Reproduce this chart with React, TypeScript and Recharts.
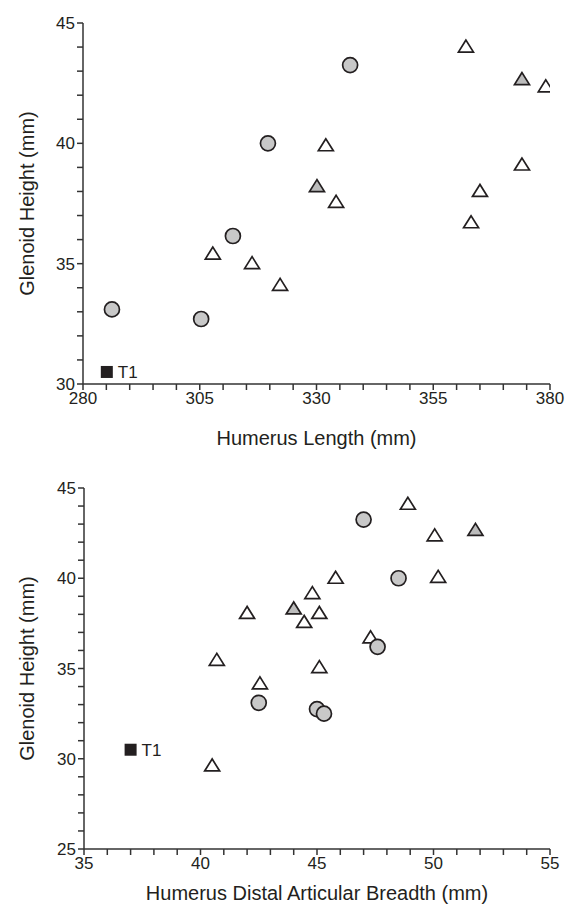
import { ScatterChart, Scatter, XAxis, YAxis } from "recharts"

// top panel: glenoid height vs humerus length
const topCircles = [
  { x: 286.2, y: 33.1 },
  { x: 305.3, y: 32.7 },
  { x: 312.1, y: 36.15 },
  { x: 319.6, y: 40.0 },
  { x: 337.2, y: 43.25 },
]
const topOpenTriangles = [
  { x: 307.8, y: 35.4 },
  { x: 316.2, y: 35.0 },
  { x: 322.2, y: 34.1 },
  { x: 332.0, y: 39.9 },
  { x: 334.2, y: 37.55 },
  { x: 362.0, y: 44.0 },
  { x: 363.1, y: 36.7 },
  { x: 365.0, y: 38.0 },
  { x: 374.0, y: 39.1 },
  { x: 379.1, y: 42.35 },
]
const topGrayTriangles = [
  { x: 330.1, y: 38.2 },
  { x: 374.0, y: 42.65 },
]
const topT1 = [{ x: 285.1, y: 30.5 }]

// bottom panel: glenoid height vs distal articular breadth
const bottomCircles = [
  { x: 42.5, y: 33.1 },
  { x: 45.0, y: 32.75 },
  { x: 45.3, y: 32.5 },
  { x: 47.6, y: 36.2 },
  { x: 48.5, y: 40.0 },
  { x: 47.0, y: 43.25 },
]
const bottomOpenTriangles = [
  { x: 40.5, y: 29.6 },
  { x: 40.7, y: 35.45 },
  { x: 42.0, y: 38.05 },
  { x: 42.55, y: 34.15 },
  { x: 44.45, y: 37.55 },
  { x: 44.8, y: 39.15 },
  { x: 45.1, y: 38.05 },
  { x: 45.1, y: 35.05 },
  { x: 45.8, y: 40.0 },
  { x: 47.3, y: 36.7 },
  { x: 48.9, y: 44.1 },
  { x: 50.05, y: 42.35 },
  { x: 50.2, y: 40.05 },
]
const bottomGrayTriangles = [
  { x: 44.0, y: 38.3 },
  { x: 51.8, y: 42.65 },
]
const bottomT1 = [{ x: 37.0, y: 30.5 }]

const topXTicks = [280, 285, 290, 295, 300, 305, 310, 315, 320, 325, 330, 335, 340, 345, 350, 355, 360, 365, 370, 375, 380]
const topXLabels = [280, 305, 330, 355, 380]
const topYTicks = [30, 31, 32, 33, 34, 35, 36, 37, 38, 39, 40, 41, 42, 43, 44, 45]
const topYLabels = [30, 35, 40, 45]

const bottomXTicks = [35, 36, 37, 38, 39, 40, 41, 42, 43, 44, 45, 46, 47, 48, 49, 50, 51, 52, 53, 54, 55]
const bottomXLabels = [35, 40, 45, 50, 55]
const bottomYTicks = [25, 26, 27, 28, 29, 30, 31, 32, 33, 34, 35, 36, 37, 38, 39, 40, 41, 42, 43, 44, 45]
const bottomYLabels = [25, 30, 35, 40, 45]

const FONT = "'Liberation Sans', Arial, sans-serif"
const INK = "#231f20"
const AXIS = "#333"

function Circle(props: any) {
  const { cx, cy } = props
  return <circle cx={cx} cy={cy} r={7.5} fill="#c8c8c8" stroke={INK} strokeWidth={1.7} />
}

function Triangle(fill: string) {
  return (props: any) => {
    const { cx, cy } = props
    const pts = `${cx},${cy - 7} ${cx - 7.5},${cy + 5} ${cx + 7.5},${cy + 5}`
    return <polygon points={pts} fill={fill} stroke={INK} strokeWidth={1.7} strokeLinejoin="miter" />
  }
}

function T1Square(props: any) {
  const { cx, cy } = props
  return (
    <g>
      <rect x={cx - 6} y={cy - 6} width={12} height={12} fill={INK} />
      <text x={cx + 11} y={cy} dy="0.36em" fontSize={17} fontFamily={FONT} fill={INK}>
        T1
      </text>
    </g>
  )
}

function xTick(labels: number[]) {
  return (props: any) => {
    const { x, y, payload } = props
    if (!labels.includes(payload.value)) return <g />
    return (
      <text x={x} y={y} dy="0.72em" textAnchor="middle" fontSize={17} fontFamily={FONT} fill={INK}>
        {payload.value}
      </text>
    )
  }
}

function yTick(labels: number[]) {
  return (props: any) => {
    const { x, y, payload } = props
    if (!labels.includes(payload.value)) return <g />
    return (
      <text x={x} y={y} dy="0.36em" textAnchor="end" fontSize={17} fontFamily={FONT} fill={INK}>
        {payload.value}
      </text>
    )
  }
}

function xTitle(text: string, bottom: number) {
  return (props: any) => {
    const vb = props.viewBox
    return (
      <text x={vb.x + vb.width / 2} y={bottom} textAnchor="middle" fontSize={20} fontFamily={FONT} fill={INK}>
        {text}
      </text>
    )
  }
}

function yTitle(text: string) {
  return (props: any) => {
    const vb = props.viewBox
    const cy = vb.y + vb.height / 2
    return (
      <text
        x={27}
        y={cy}
        transform={`rotate(-90, 27, ${cy})`}
        dy="0.36em"
        textAnchor="middle"
        fontSize={20}
        fontFamily={FONT}
        fill={INK}
      >
        {text}
      </text>
    )
  }
}

interface PanelProps {
  height: number
  top: number
  bottom: number
  left: number
  xTicks: number[]
  xLabels: number[]
  yTicks: number[]
  yLabels: number[]
  xTitleText: string
  titleBaseline: number
  circles: { x: number; y: number }[]
  open: { x: number; y: number }[]
  gray: { x: number; y: number }[]
  t1: { x: number; y: number }[]
}

function Panel(p: PanelProps) {
  const xDomain = [p.xTicks[0], p.xTicks[p.xTicks.length - 1]]
  const yDomain = [p.yTicks[0], p.yTicks[p.yTicks.length - 1]]
  const axisLine = { stroke: AXIS, strokeWidth: 1.5 }
  return (
    <ScatterChart width={567} height={p.height} margin={{ top: p.top, right: 17, left: 0, bottom: p.bottom }}>
      <XAxis
        type="number"
        dataKey="x"
        domain={xDomain}
        ticks={p.xTicks}
        interval={0}
        allowDataOverflow
        height={60}
        tickSize={6}
        tickMargin={2}
        axisLine={axisLine}
        tickLine={axisLine}
        tick={xTick(p.xLabels)}
        label={{ content: xTitle(p.xTitleText, p.titleBaseline) }}
      />
      <YAxis
        type="number"
        dataKey="y"
        domain={yDomain}
        ticks={p.yTicks}
        interval={0}
        allowDataOverflow
        width={p.left}
        tickSize={6}
        tickMargin={2}
        axisLine={axisLine}
        tickLine={axisLine}
        tick={yTick(p.yLabels)}
        label={{ content: yTitle("Glenoid Height (mm)") }}
      />
      <Scatter data={p.open} shape={Triangle("#ffffff")} isAnimationActive={false} />
      <Scatter data={p.gray} shape={Triangle("#bcbcbc")} isAnimationActive={false} />
      <Scatter data={p.circles} shape={Circle} isAnimationActive={false} />
      <Scatter data={p.t1} shape={T1Square} isAnimationActive={false} />
    </ScatterChart>
  )
}

export default function App() {
  return (
    <div style={{ position: "absolute", left: 0, top: 0, width: 567, height: 911, background: "#fff" }}>
      <Panel
        height={455}
        top={23}
        bottom={11}
        left={83}
        xTicks={topXTicks}
        xLabels={topXLabels}
        yTicks={topYTicks}
        yLabels={topYLabels}
        xTitleText="Humerus Length (mm)"
        titleBaseline={445}
        circles={topCircles}
        open={topOpenTriangles}
        gray={topGrayTriangles}
        t1={topT1}
      />
      <Panel
        height={456}
        top={33}
        bottom={2}
        left={84}
        xTicks={bottomXTicks}
        xLabels={bottomXLabels}
        yTicks={bottomYTicks}
        yLabels={bottomYLabels}
        xTitleText="Humerus Distal Articular Breadth (mm)"
        titleBaseline={445}
        circles={bottomCircles}
        open={bottomOpenTriangles}
        gray={bottomGrayTriangles}
        t1={bottomT1}
      />
    </div>
  )
}
